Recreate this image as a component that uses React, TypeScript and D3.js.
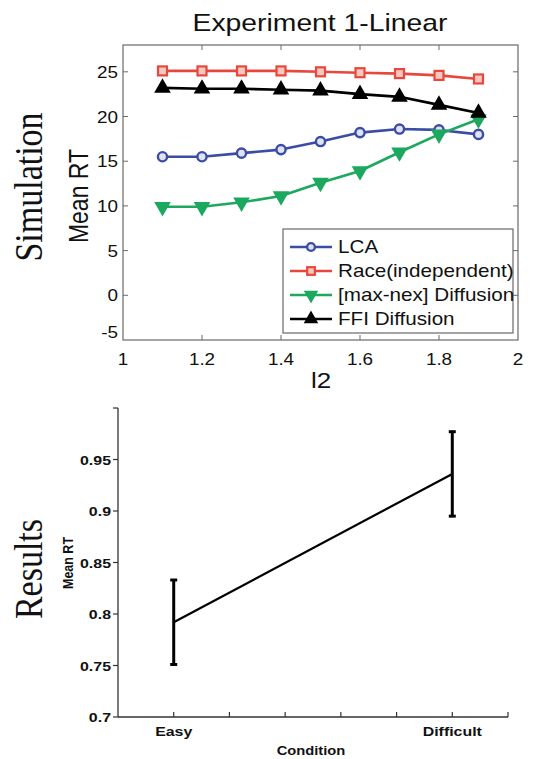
import React from "react";
import * as d3 from "d3";

// ---- Simulation panel data (Mean RT vs l2) ----
const l2Values = [1.1, 1.2, 1.3, 1.4, 1.5, 1.6, 1.7, 1.8, 1.9];
const lcaRT = [15.5, 15.5, 15.9, 16.3, 17.2, 18.2, 18.6, 18.5, 18.0];
const raceRT = [25.1, 25.1, 25.1, 25.1, 25.0, 24.9, 24.8, 24.6, 24.2];
const maxNexRT = [9.9, 9.9, 10.4, 11.1, 12.6, 13.9, 16.0, 18.0, 19.7];
const ffiRT = [23.2, 23.1, 23.1, 23.0, 22.9, 22.5, 22.2, 21.3, 20.4];
const seriesNames = ["LCA", "Race(independent)", "[max-nex] Diffusion", "FFI Diffusion"];
const xTicksTop = [1, 1.2, 1.4, 1.6, 1.8, 2];
const yTicksTop = [-5, 0, 5, 10, 15, 20, 25];

// ---- Results panel data (Mean RT by condition) ----
const conditions = ["Easy", "Difficult"];
const conditionPos = [1, 6];
const conditionMean = [0.792, 0.936];
const conditionErr = [0.041, 0.041];
const conditionTicks = [1, 2, 3, 4, 5, 6, 7];
const yTicksBottom = [0.7, 0.75, 0.8, 0.85, 0.9, 0.95];

const SX = 1.18; // horizontal text stretch
const SANS = "'Liberation Sans', Arial, Helvetica, sans-serif";
const SERIF = "'Liberation Serif', 'Times New Roman', serif";

type TProps = {
  x: number;
  y: number;
  size: number;
  anchor?: "start" | "middle" | "end";
  weight?: string;
  family?: string;
  vertical?: boolean;
  baseline?: string;
  children: React.ReactNode;
};

function T({ x, y, size, anchor = "middle", weight = "normal", family = SANS, vertical = false, baseline, children }: TProps) {
  return (
    <text
      transform={`translate(${x},${y}) scale(${SX},1)${vertical ? " rotate(-90)" : ""}`}
      textAnchor={anchor}
      fontSize={size}
      fontWeight={weight}
      fontFamily={family}
      dominantBaseline={baseline}
      fill="#111"
    >
      {children}
    </text>
  );
}

export default function App() {
  // top panel scales
  const x = d3.scaleLinear().domain([1, 2]).range([123, 518]);
  const y = d3.scaleLinear().domain([-5, 28]).range([340, 45]);
  const [x0, x1] = x.range();
  const [yb, yt] = y.range();

  const series = [
    { name: seriesNames[0], values: lcaRT, color: "#3a4ca6", shape: "circle" },
    { name: seriesNames[1], values: raceRT, color: "#e8473c", shape: "square" },
    { name: seriesNames[2], values: maxNexRT, color: "#1ca85e", shape: "down" },
    { name: seriesNames[3], values: ffiRT, color: "#000000", shape: "up" },
  ];

  const line = d3
    .line<number>()
    .x((_, i) => x(l2Values[i]))
    .y((v) => y(v));

  const marker = (shape: string, color: string, cx: number, cy: number, scale = 1, key?: string) => {
    if (shape === "circle") {
      return <circle key={key} cx={cx} cy={cy} r={4.6 * scale} fill="#dfe3f3" stroke={color} strokeWidth={2.4} />;
    }
    if (shape === "square") {
      const s = 9 * scale;
      return <rect key={key} x={cx - s / 2} y={cy - s / 2} width={s} height={s} fill="#f6c8c2" stroke={color} strokeWidth={2.2} />;
    }
    const p = d3.symbol().type(d3.symbolTriangle).size(85 * scale * scale)()!;
    return (
      <path
        key={key}
        d={p}
        transform={`translate(${cx},${cy})${shape === "down" ? " rotate(180)" : ""}`}
        fill={color}
        stroke={color}
        strokeWidth={1.5}
      />
    );
  };

  // bottom panel scales
  const xb = d3.scaleLinear().domain([0, 7]).range([118, 508]);
  const yB = d3.scaleLinear().domain([0.7, 1.0]).range([717, 408]);
  const bottomLine = d3
    .line<number>()
    .x((_, i) => xb(conditionPos[i]))
    .y((v) => yB(v));

  const legendX = 283;
  const legendY = 229;
  const legendRows = [247, 271, 295, 319];

  return (
    <svg width={533} height={759} style={{ position: "absolute", left: 0, top: 0, background: "#fff" }}>
      <rect width={533} height={759} fill="#fff" />

      {/* ===== Simulation panel ===== */}
      <T x={320} y={31} size={24}>Experiment 1-Linear</T>

      {/* axes box */}
      <rect x={x0} y={yt} width={x1 - x0} height={yb - yt} fill="none" stroke="#6a6a6a" strokeWidth={1.2} />
      {xTicksTop.slice(1, -1).map((t) => (
        <g key={`xt${t}`} stroke="#6a6a6a" strokeWidth={1}>
          <line x1={x(t)} x2={x(t)} y1={yb} y2={yb - 5} />
          <line x1={x(t)} x2={x(t)} y1={yt} y2={yt + 5} />
        </g>
      ))}
      {yTicksTop.slice(1).map((t) => (
        <g key={`yt${t}`} stroke="#6a6a6a" strokeWidth={1}>
          <line x1={x0} x2={x0 + 5} y1={y(t)} y2={y(t)} />
          <line x1={x1} x2={x1 - 5} y1={y(t)} y2={y(t)} />
        </g>
      ))}
      {xTicksTop.map((t) => (
        <T key={`xl${t}`} x={x(t)} y={365} size={16}>
          {d3.format("~g")(t)}
        </T>
      ))}
      {yTicksTop.map((t) => (
        <T key={`yl${t}`} x={118} y={y(t) + (t === -5 ? -2 : 6)} size={16} anchor="end">
          {String(t)}
        </T>
      ))}
      <T x={321} y={388} size={22}>l2</T>
      <T x={88} y={196} size={23} vertical>Mean RT</T>
      <T x={42} y={187} size={34} family={SERIF} vertical>Simulation</T>

      {/* series */}
      {series.map((s) => (
        <g key={s.name}>
          <path d={line(s.values)!} fill="none" stroke={s.color} strokeWidth={2.6} strokeLinejoin="round" />
          {s.values.map((v, i) => marker(s.shape, s.color, x(l2Values[i]), y(v), 1, `${s.name}${i}`))}
        </g>
      ))}

      {/* legend */}
      <rect x={legendX} y={legendY} width={230} height={104} fill="#fff" stroke="#6a6a6a" strokeWidth={1.2} />
      {series.map((s, i) => (
        <g key={`lg${s.name}`}>
          <line x1={290} x2={332} y1={legendRows[i]} y2={legendRows[i]} stroke={s.color} strokeWidth={2.6} />
          {marker(s.shape, s.color, 311, legendRows[i], 0.85)}
          <T x={338} y={legendRows[i]} size={17.5} anchor="start" baseline="central">
            {s.name}
          </T>
        </g>
      ))}

      {/* ===== Results panel ===== */}
      <line x1={xb(0)} x2={xb(0)} y1={yB(1.0)} y2={yB(0.7)} stroke="#333" strokeWidth={1.3} />
      <line x1={xb(0)} x2={xb(7)} y1={yB(0.7)} y2={yB(0.7)} stroke="#333" strokeWidth={1.3} />
      {[...yTicksBottom, 1.0].map((t) => (
        <line key={`byt${t}`} x1={xb(0) - 5} x2={xb(0)} y1={yB(t)} y2={yB(t)} stroke="#333" strokeWidth={1.2} />
      ))}
      {yTicksBottom.map((t) => (
        <T key={`byl${t}`} x={111} y={yB(t) + 5} size={13.5} weight="bold" anchor="end">
          {d3.format("~g")(t)}
        </T>
      ))}
      {conditionTicks.map((t) => (
        <line key={`bxt${t}`} x1={xb(t)} x2={xb(t)} y1={yB(0.7)} y2={yB(0.7) - 5} stroke="#333" strokeWidth={1.2} />
      ))}
      {conditions.map((c, i) => (
        <T key={`bxl${c}`} x={xb(conditionPos[i])} y={736} size={13.5} weight="bold">
          {c}
        </T>
      ))}
      <T x={311} y={755} size={12.5} weight="bold">Condition</T>
      <T x={73} y={563} size={12.5} weight="bold" vertical>Mean RT</T>
      <T x={42} y={569} size={34} family={SERIF} vertical>Results</T>

      <path d={bottomLine(conditionMean)!} fill="none" stroke="#000" strokeWidth={2.2} />
      {conditionMean.map((m, i) => {
        const cx = xb(conditionPos[i]);
        const lo = yB(m - conditionErr[i]);
        const hi = yB(m + conditionErr[i]);
        return (
          <g key={`eb${i}`} stroke="#000" strokeWidth={3}>
            <line x1={cx} x2={cx} y1={lo} y2={hi} />
            <line x1={cx - 3.5} x2={cx + 3.5} y1={lo} y2={lo} />
            <line x1={cx - 3.5} x2={cx + 3.5} y1={hi} y2={hi} />
          </g>
        );
      })}
    </svg>
  );
}
